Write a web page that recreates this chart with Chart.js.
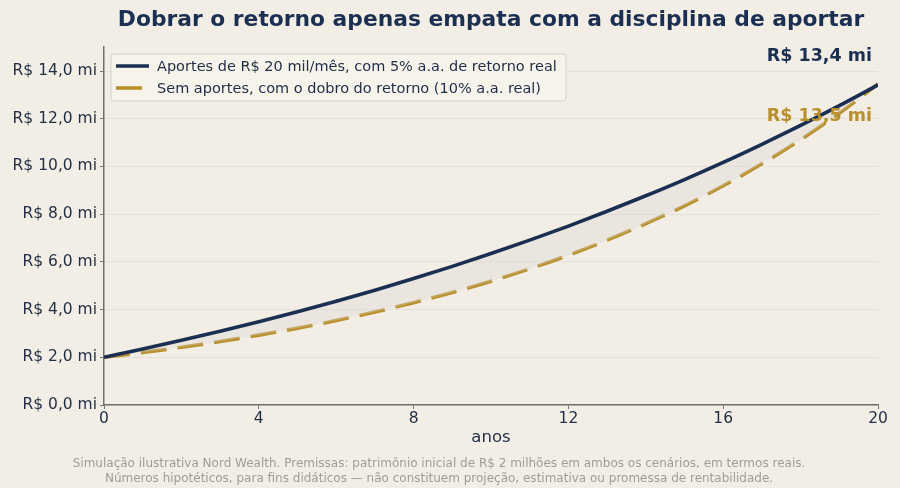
<!DOCTYPE html>
<html>
<head>
<meta charset="utf-8">
<script src="https://cdn.jsdelivr.net/npm/chart.js@4.4.1/dist/chart.umd.min.js"></script>
<style>
  html, body { margin: 0; padding: 0; background: #f3eee5; }
  #wrap { width: 900px; height: 488px; }
</style>
</head>
<body>
<div id="wrap"><canvas id="myChart" width="900" height="488"></canvas></div>
<script>
// anos
const years = [0, 1, 2, 3, 4, 5, 6, 7, 8, 9, 10, 11, 12, 13, 14, 15, 16, 17, 18, 19, 20];
// patrimônio em R$ milhões
const withContrib = [2.0, 2.35, 2.71, 3.09, 3.49, 3.91, 4.35, 4.81, 5.3, 5.81, 6.35, 6.91, 7.5, 8.12, 8.77, 9.45, 10.17, 10.93, 11.72, 12.55, 13.42];
const doubleReturn = [2.0, 2.2, 2.42, 2.66, 2.93, 3.22, 3.54, 3.9, 4.29, 4.72, 5.19, 5.71, 6.28, 6.91, 7.6, 8.35, 9.19, 10.11, 11.12, 12.23, 13.46];
const yTicks = [0, 2, 4, 6, 8, 10, 12, 14];
const xTicks = [0, 4, 8, 12, 16, 20];
const seriesLabels = [
  "Aportes de R$ 20 mil/mês, com 5% a.a. de retorno real",
  "Sem aportes, com o dobro do retorno (10% a.a. real)",
];
const endLabels = ["R$ 13,4 mi", "R$ 13,5 mi"];

const NAVY = "#1b2f52";
const GOLD = "#b88f2a";
const TEXT = "#1f2d45";
const FONT = "'DejaVu Sans', sans-serif";
const DASH = [26, 11];

const fmtMi = (v) => "R$ " + v.toFixed(1).replace(".", ",") + " mi";

const bgPlugin = {
  id: "bg",
  beforeDraw(chart) {
    const c = chart.ctx;
    c.save();
    c.fillStyle = "#f3eee5";
    c.fillRect(0, 0, chart.width, chart.height);
    c.restore();
  },
};

// legend box inside the plot + end value labels
const overlayPlugin = {
  id: "overlay",
  afterDraw(chart) {
    const c = chart.ctx;
    const xs = chart.scales.x;
    const ys = chart.scales.y;
    c.save();

    // legend
    const bx = 111, by = 54, bw = 455, bh = 47;
    c.beginPath();
    c.roundRect(bx, by, bw, bh, 3);
    c.fillStyle = "rgba(246,243,236,0.85)";
    c.fill();
    c.strokeStyle = "#d6d1c6";
    c.lineWidth = 1;
    c.stroke();

    c.font = "14.5px " + FONT;
    c.textBaseline = "middle";
    c.textAlign = "left";
    const rows = [
      { y: 66, color: NAVY, dash: [] },
      { y: 88, color: GOLD, dash: DASH },
    ];
    rows.forEach((r, i) => {
      c.beginPath();
      c.setLineDash(r.dash);
      c.strokeStyle = r.color;
      c.lineWidth = 3.6;
      c.moveTo(116, r.y);
      c.lineTo(149, r.y);
      c.stroke();
      c.setLineDash([]);
      c.fillStyle = TEXT;
      c.fillText(seriesLabels[i], 157, r.y + 1);
    });

    // end labels
    const xr = xs.getPixelForValue(years[years.length - 1]) - 6;
    c.font = "bold 17.5px " + FONT;
    c.textAlign = "right";
    c.fillStyle = NAVY;
    c.fillText(endLabels[0], xr, ys.getPixelForValue(withContrib[withContrib.length - 1]) - 28);
    c.fillStyle = GOLD;
    c.fillText(endLabels[1], xr, ys.getPixelForValue(doubleReturn[doubleReturn.length - 1]) + 33);
    c.restore();
  },
};

const ctx = document.getElementById("myChart");

new Chart(ctx, {
  type: "line",
  data: {
    datasets: [
      {
        label: seriesLabels[0],
        data: years.map((x, i) => ({ x: x, y: withContrib[i] })),
        borderColor: NAVY,
        borderWidth: 3.6,
        pointRadius: 0,
        cubicInterpolationMode: "monotone",
        fill: "+1",
        backgroundColor: "rgba(215,215,212,0.32)",
        order: 1,
      },
      {
        label: seriesLabels[1],
        data: years.map((x, i) => ({ x: x, y: doubleReturn[i] })),
        borderColor: GOLD,
        borderWidth: 3.6,
        borderDash: DASH,
        pointRadius: 0,
        cubicInterpolationMode: "monotone",
        fill: false,
        order: 2,
      },
    ],
  },
  options: {
    responsive: false,
    animation: false,
    layout: { padding: { left: 0, right: 22, top: 0, bottom: 0 } },
    scales: {
      x: {
        type: "linear",
        min: 0,
        max: 20,
        afterBuildTicks: (s) => { s.ticks = xTicks.map((v) => ({ value: v })); },
        afterFit: (s) => { s.height = 49; },
        grid: { drawOnChartArea: false, tickLength: 4, tickColor: "#777", color: "#777" },
        border: { color: "#707070", width: 1.5 },
        ticks: { color: TEXT, font: { family: FONT, size: 15.5 }, padding: 1, maxRotation: 0 },
        title: {
          display: true,
          text: "anos",
          color: TEXT,
          font: { family: FONT, size: 16.5 },
          padding: { top: 0, bottom: 6 },
        },
      },
      y: {
        min: 0,
        max: 15,
        afterBuildTicks: (s) => { s.ticks = yTicks.map((v) => ({ value: v })); },
        afterFit: (s) => { s.width = 104; },
        grid: { color: "rgba(0,0,0,0.06)", lineWidth: 1, tickLength: 4, tickColor: "#777" },
        border: { color: "#707070", width: 1.5 },
        ticks: {
          color: TEXT,
          font: { family: FONT, size: 15.5 },
          padding: 3,
          callback: (v) => fmtMi(v),
        },
      },
    },
    plugins: {
      legend: { display: false },
      tooltip: { enabled: false },
      title: {
        display: true,
        fullSize: false,
        text: "Dobrar o retorno apenas empata com a disciplina de aportar",
        color: NAVY,
        font: { family: FONT, size: 21.8, weight: "bold", lineHeight: 1.2 },
        padding: { top: 7, bottom: 14 },
      },
      subtitle: {
        display: true,
        position: "bottom",
        text: [
          "Simulação ilustrativa Nord Wealth. Premissas: patrimônio inicial de R$ 2 milhões em ambos os cenários, em termos reais.",
          "Números hipotéticos, para fins didáticos — não constituem projeção, estimativa ou promessa de rentabilidade.",
        ],
        color: "#a09c94",
        font: { family: FONT, size: 12, lineHeight: 1.25 },
        padding: { top: 2, bottom: 2 },
      },
    },
  },
  plugins: [bgPlugin, overlayPlugin],
});
</script>
</body>
</html>
